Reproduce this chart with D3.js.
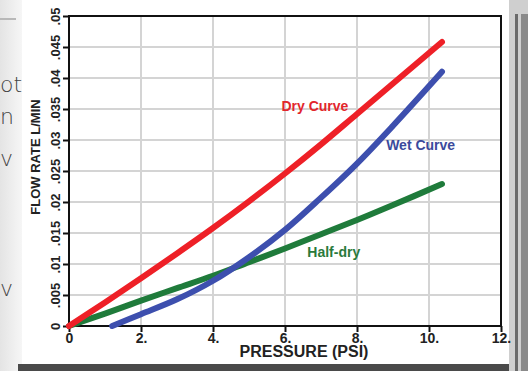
<!DOCTYPE html>
<html>
<head>
<meta charset="utf-8">
<script src="https://cdn.jsdelivr.net/npm/d3@7"></script>
<style>
  body { margin: 0; background: #fff; }
  svg { display: block; font-family: "Liberation Sans", Arial, sans-serif; }
</style>
</head>
<body>
<div id="chart"></div>
<script>
// values
const xTicks = [0, 2, 4, 6, 8, 10, 12];
const xTickLabels = ["0", "2.", "4.", "6.", "8.", "10.", "12."];
const yTicks = [0, 0.005, 0.01, 0.015, 0.02, 0.025, 0.03, 0.035, 0.04, 0.045, 0.05];
const yTickLabels = ["0", ".005", ".01", ".015", ".02", ".025", ".03", ".035", ".04", ".045", ".05"];

const dryX = [0, 1, 2, 3, 4, 5, 6, 7, 8, 9, 10.36];
const dryY = [0, 0.0038, 0.0077, 0.0117, 0.0158, 0.0201, 0.0246, 0.0293, 0.0342, 0.0391, 0.0458];
const wetX = [1.2, 2, 3, 4, 5, 6, 7, 8, 9, 10.36];
const wetY = [0, 0.0019, 0.0043, 0.0073, 0.0111, 0.0155, 0.0207, 0.0262, 0.0323, 0.041];
const halfX = [0, 1, 2, 3, 4, 5, 6, 7, 8, 9, 10.36];
const halfY = [0, 0.002, 0.0041, 0.0061, 0.0081, 0.0103, 0.0125, 0.0148, 0.0171, 0.0195, 0.0229];

const W = 528, H = 371;
const svg = d3.select("#chart").append("svg").attr("width", W).attr("height", H);

// frame bits around the screenshot
const defs = svg.append("defs");
const lg = defs.append("linearGradient").attr("id", "leftPanel").attr("x1", 0).attr("x2", 1);
lg.append("stop").attr("offset", 0).attr("stop-color", "#e4e4e4");
lg.append("stop").attr("offset", 1).attr("stop-color", "#f6f6f6");
svg.append("rect").attr("x", 0).attr("y", 0).attr("width", 22).attr("height", H).attr("fill", "url(#leftPanel)");
svg.append("line").attr("x1", 0).attr("x2", 16).attr("y1", 19).attr("y2", 19).attr("stroke", "#b8b8b8").attr("stroke-width", 2);
[["ot", 92], ["n", 124], ["v", 166], ["v", 296]].forEach(([t, y]) => {
  svg.append("text").attr("x", 0).attr("y", y).text(t)
    .attr("font-family", "DejaVu Sans, sans-serif").attr("font-weight", 300)
    .attr("font-size", 22).attr("fill", "#444");
});
svg.append("rect").attr("x", 18).attr("y", 364).attr("width", W - 18).attr("height", 7).attr("fill", "#4a4a4a");
svg.append("rect").attr("x", 509).attr("y", 0).attr("width", 19).attr("height", H).attr("fill", "#cfcfcf");
svg.append("rect").attr("x", 515).attr("y", 14).attr("width", 3).attr("height", H).attr("fill", "#6a6a6a");
svg.append("rect").attr("x", 521).attr("y", 14).attr("width", 7).attr("height", H).attr("fill", "#8a8a8a");

const x = d3.scaleLinear().domain([0, 12]).range([69, 501]);
const y = d3.scaleLinear().domain([0, 0.05]).range([326, 16]);

// grid
const grid = svg.append("g").attr("stroke", "#d4d4d4").attr("stroke-width", 2);
grid.selectAll(".gx").data(xTicks.slice(1, -1)).join("line")
  .attr("x1", d => x(d)).attr("x2", d => x(d)).attr("y1", y(0.05)).attr("y2", y(0));
grid.selectAll(".gy").data(yTicks.slice(1, -1)).join("line")
  .attr("x1", x(0)).attr("x2", x(12)).attr("y1", d => y(d)).attr("y2", d => y(d));

// axes
const xAxis = svg.append("g").attr("transform", `translate(0,${y(0)})`)
  .call(d3.axisBottom(x).tickValues(xTicks).tickFormat((d, i) => xTickLabels[i]).tickSize(6).tickPadding(1));
xAxis.select(".domain").remove();
xAxis.selectAll("line").attr("stroke", "#111").attr("stroke-width", 2);
xAxis.selectAll("text").attr("font-size", 14).attr("font-weight", "bold").attr("fill", "#222")
  .attr("font-family", "Liberation Sans, Arial, sans-serif");

const yAxis = svg.append("g").attr("transform", `translate(${x(0)},0)`)
  .call(d3.axisLeft(y).tickValues(yTicks).tickFormat((d, i) => yTickLabels[i]).tickSize(6));
yAxis.select(".domain").remove();
yAxis.selectAll("line").attr("stroke", "#111").attr("stroke-width", 2);
yAxis.selectAll("text")
  .attr("x", 0).attr("dy", null).attr("text-anchor", "middle")
  .attr("transform", "translate(-9,0) rotate(-90)")
  .attr("font-size", 13).attr("font-weight", "bold").attr("fill", "#222")
  .attr("font-family", "Liberation Sans, Arial, sans-serif");

svg.append("rect").attr("x", x(0)).attr("y", y(0.05)).attr("width", x(12) - x(0)).attr("height", y(0) - y(0.05))
  .attr("fill", "none").attr("stroke", "#111").attr("stroke-width", 2);

svg.append("text").attr("x", 304).attr("y", 357).attr("text-anchor", "middle")
  .attr("font-size", 16).attr("font-weight", "bold").attr("fill", "#222").text("PRESSURE (PSI)");
svg.append("text").attr("transform", "translate(40,157) rotate(-90)").attr("text-anchor", "middle")
  .attr("font-size", 13).attr("font-weight", "bold").attr("fill", "#222").text("FLOW RATE L/MIN");

// curves
const line = d3.line().x(d => x(d[0])).y(d => y(d[1])).curve(d3.curveCatmullRom.alpha(0.5));
const series = [
  { xs: halfX, ys: halfY, color: "#1f7b3b" },
  { xs: dryX, ys: dryY, color: "#ee2027" },
  { xs: wetX, ys: wetY, color: "#3d4fae" }
];
series.forEach(s => {
  svg.append("path").datum(d3.zip(s.xs, s.ys)).attr("d", line)
    .attr("fill", "none").attr("stroke", s.color).attr("stroke-width", 6)
    .attr("stroke-linecap", "round").attr("stroke-linejoin", "round");
});

const labels = [
  { text: "Dry Curve", lx: 5.9, ly: 0.0347, color: "#e2262c" },
  { text: "Wet Curve", lx: 8.81, ly: 0.0284, color: "#3b4a9c" },
  { text: "Half-dry", lx: 6.62, ly: 0.0111, color: "#2a7a3c" }
];
svg.selectAll(".lbl").data(labels).join("text")
  .attr("x", d => x(d.lx)).attr("y", d => y(d.ly))
  .attr("font-size", 14).attr("font-weight", "bold").attr("fill", d => d.color).text(d => d.text);
</script>
</body>
</html>
